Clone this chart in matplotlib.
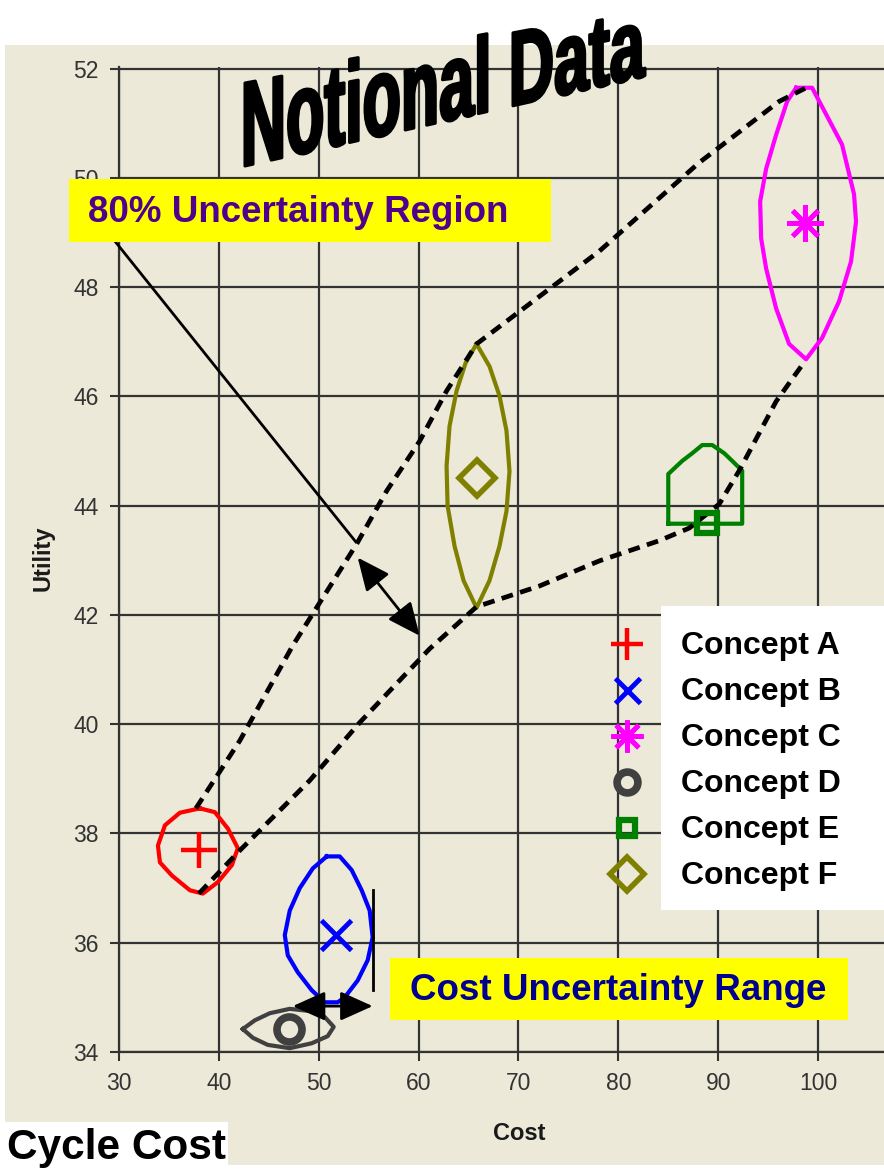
import numpy as np
import matplotlib
matplotlib.use("Agg")
import matplotlib.pyplot as plt
from matplotlib.patches import Rectangle, PathPatch
from matplotlib.path import Path
from matplotlib.textpath import TextPath
from matplotlib.font_manager import FontProperties
from matplotlib.transforms import IdentityTransform

plt.rcParams['font.family'] = ['Liberation Sans', 'DejaVu Sans']

W, H = 884, 1171
BEIGE = '#ECE9D8'

# concept point estimates
concepts = ['Concept A', 'Concept B', 'Concept C', 'Concept D', 'Concept E', 'Concept F']
cost = [38.0, 51.7, 98.7, 47.0, 88.9, 65.8]
utility = [37.69, 36.14, 49.17, 34.42, 43.68, 44.51]
colors = ['#ff0000', '#0000ff', '#ff00ff', '#404040', '#008000', '#808000']
markers = ['+', 'x', (8, 2, 0), 'o', 's', 'D']

# uncertainty outlines per concept (cost, utility)
region_a_cost = [38.1, 39.6, 40.9, 41.9, 41.3, 39.9, 38.4, 37.1, 35.3, 34.1, 33.9, 34.6, 36.1]
region_a_util = [38.46, 38.39, 38.09, 37.73, 37.42, 37.11, 36.90, 36.96, 37.23, 37.47, 37.78, 38.15, 38.38]

region_b_cost = [50.8, 52.1, 53.3, 54.3, 55.1, 55.4, 54.9, 53.9, 52.6, 51.9, 50.6, 49.3,
                 47.9, 46.9, 46.6, 47.1, 48.1, 49.4]
region_b_util = [37.58, 37.58, 37.33, 36.96, 36.59, 36.10, 35.68, 35.31, 35.00, 34.91, 34.91, 35.13,
                 35.46, 35.77, 36.14, 36.59, 37.00, 37.36]

region_c_cost = [97.8, 99.4, 102.4, 103.6, 103.8, 103.3, 102.1, 100.4, 98.8, 97.1, 95.8, 94.8,
                 94.3, 94.2, 94.8, 95.8, 96.9]
region_c_util = [51.65, 51.65, 50.61, 49.70, 49.20, 48.47, 47.74, 47.07, 46.68, 46.96, 47.61, 48.34,
                 48.89, 49.57, 50.17, 50.79, 51.40]

region_d_cost = [42.4, 43.6, 45.1, 47.1, 49.1, 50.6, 51.5, 50.9, 49.3, 47.1, 44.9, 43.4]
region_d_util = [34.42, 34.58, 34.71, 34.79, 34.75, 34.64, 34.46, 34.29, 34.16, 34.07, 34.13, 34.26]

region_e_cost = [85.0, 85.0, 86.4, 87.4, 88.4, 89.4, 90.6, 91.4, 92.4, 92.4]
region_e_util = [43.67, 44.58, 44.82, 44.96, 45.11, 45.11, 44.96, 44.82, 44.64, 43.67]

region_f_cost = [65.8, 67.1, 68.1, 68.8, 69.1, 68.8, 68.1, 67.1, 65.8, 64.5, 63.6, 62.9,
                 62.8, 63.1, 63.8, 64.7]
region_f_util = [46.96, 46.55, 46.01, 45.37, 44.63, 43.90, 43.26, 42.63, 42.13, 42.63, 43.26, 44.00,
                 44.73, 45.46, 46.10, 46.61]

regions = [(region_a_cost, region_a_util), (region_b_cost, region_b_util),
           (region_c_cost, region_c_util), (region_d_cost, region_d_util),
           (region_e_cost, region_e_util), (region_f_cost, region_f_util)]

# 80% band edges
band_upper_cost = [37.7, 42.1, 47.4, 53.8, 56.8, 60.1, 62.8, 65.8, 78.1, 88.1, 96.1, 98.7]
band_upper_util = [38.46, 39.70, 41.44, 43.30, 44.27, 45.18, 46.10, 46.96, 48.66, 50.28, 51.40, 51.64]
band_lower_cost = [38.0, 42.1, 49.1, 54.1, 61.1, 65.8, 72.1, 78.1, 84.1, 87.1, 90.1, 92.1, 95.8, 98.7]
band_lower_util = [36.90, 37.69, 38.97, 40.03, 41.38, 42.15, 42.53, 42.99, 43.36, 43.59, 44.03,
                   44.64, 45.91, 46.65]

x_ticks = [30, 40, 50, 60, 70, 80, 90, 100]
y_ticks = [34, 36, 38, 40, 42, 44, 46, 48, 50, 52]


def fx(px):
    return px / W


def fy(py):
    return 1 - py / H


fig = plt.figure(figsize=(W / 100, H / 100), dpi=100, facecolor='white')
fig.add_artist(Rectangle((fx(5), fy(1165)), fx(W - 5), (1165 - 45) / H,
                         transform=fig.transFigure, facecolor=BEIGE, edgecolor='none', zorder=-5))

ax = fig.add_axes([fx(119), fy(1052), fx(W - 119), (1052 - 67) / H])
ax.set_facecolor(BEIGE)
ax.set_xlim(30, 106.6)
ax.set_ylim(34, 52.03)
ax.set_xticks(x_ticks)
ax.set_yticks(y_ticks)
ax.grid(True, color='#333333', lw=1.6, zorder=0)
ax.set_axisbelow(True)
for side in ['top', 'right']:
    ax.spines[side].set_visible(False)
for side in ['left', 'bottom']:
    ax.spines[side].set_color('#333333')
    ax.spines[side].set_linewidth(1.6)
ax.tick_params(direction='out', length=6.2, width=1.5, color='#333333',
               labelcolor='#333333', labelsize=16.5, pad=8.5)

# uncertainty outlines
for (rc, ru), c in zip(regions, colors):
    ax.plot(rc + rc[:1], ru + ru[:1], color=c, lw=3.0, solid_joinstyle='round', zorder=3)

# 80% band
for bc, bu in [(band_upper_cost, band_upper_util), (band_lower_cost, band_lower_util)]:
    ax.plot(bc, bu, color='black', lw=3.4, ls=(0, (2.5, 1.6)), zorder=4)

# point estimates
sizes = [26, 21, 26, 18, 14, 18]
widths = [3.2, 3.5, 3.5, 5.5, 4.5, 4.0]
for x, y, c, m, s, w in zip(cost, utility, colors, markers, sizes, widths):
    ax.plot([x], [y], ls='none', marker=m, ms=s, mew=w, color=c,
            markerfacecolor='none' if m in ['o', 's', 'D'] else c, zorder=6)

# annotations
ax.plot([29.6, 53.7], [48.84, 43.34], color='black', lw=2, clip_on=False, zorder=5)
arrow = dict(arrowstyle='<|-|>,head_length=0.8,head_width=0.36', color='black', lw=2,
             mutation_scale=25, shrinkA=0, shrinkB=0)
ax.annotate('', xy=(60.1, 41.62), xytext=(53.9, 43.05), arrowprops=arrow, zorder=7)
ax.annotate('', xy=(55.4, 34.84), xytext=(47.4, 34.84), arrowprops=arrow, zorder=7)
ax.plot([55.4, 55.4], [35.13, 36.96], color='black', lw=2, zorder=5)

# legend
fig.add_artist(Rectangle((fx(661), fy(910)), fx(W - 661), (910 - 606) / H,
                         transform=fig.transFigure, facecolor='white', edgecolor='none', zorder=2))
leg_sizes = [23, 18, 23, 15, 12, 17]
for i, (name, c, m, s, w) in enumerate(zip(concepts, colors, markers, leg_sizes, widths)):
    row = fy(644 + 46 * i)
    ax.plot([fx(627)], [row], transform=fig.transFigure, clip_on=False, ls='none',
            marker=m, ms=s, mew=w, color=c,
            markerfacecolor='none' if m in ['o', 's', 'D'] else c, zorder=8)
    fig.text(fx(681), fy(646 + 46 * i), name, fontsize=23, fontweight='bold', color='black',
             va='center', ha='left', zorder=3)

# yellow callouts
fig.add_artist(Rectangle((fx(69), fy(242)), fx(551 - 69), (242 - 179) / H,
                         transform=fig.transFigure, facecolor='#ffff00', edgecolor='none', zorder=2))
fig.text(fx(88), fy(213), '80% Uncertainty Region', fontsize=26.5, fontweight='bold',
         color='#4f008c', va='center', ha='left', zorder=3)
fig.add_artist(Rectangle((fx(390), fy(1020)), fx(848 - 390), (1020 - 958) / H,
                         transform=fig.transFigure, facecolor='#ffff00', edgecolor='none', zorder=2))
fig.text(fx(410), fy(991), 'Cost Uncertainty Range', fontsize=26.5, fontweight='bold',
         color='#000090', va='center', ha='left', zorder=3)

# axis titles
fig.text(fx(43), fy(558), 'Utility', rotation=90, fontsize=17, fontweight='bold',
         color='#1a1a1a', ha='center', va='center')
fig.text(fx(519), fy(1133), 'Cost', fontsize=17, fontweight='bold',
         color='#1a1a1a', ha='center', va='center')

# bottom-left caption
fig.add_artist(Rectangle((0, 0), fx(228), (H - 1122) / H, transform=fig.transFigure,
                         facecolor='white', edgecolor='none', zorder=2))
fig.text(fx(7), fy(1148), 'Cycle Cost', fontsize=30.5, fontweight='bold', color='black',
         ha='left', va='center', zorder=3)

# slanted "Notional Data" banner built from the glyph outlines
prop = FontProperties(family='Liberation Sans', weight='bold')
tp = TextPath((0, 0), 'Notional Data', size=1, prop=prop)
cap = TextPath((0, 0), 'N', size=1, prop=prop).get_extents().height
bb = tp.get_extents()
verts = tp.vertices.copy()
x0_px, base_px, width_px = 245, 166, 400
slope = (168 - 77) / 405
X = x0_px + (verts[:, 0] - bb.x0) / bb.width * width_px
h = 83 - 15 * (X - x0_px) / width_px
Y = (H - base_px) + (X - x0_px) * slope + verts[:, 1] / cap * h
banner = Path(np.column_stack([X, Y]), tp.codes)
fig.add_artist(PathPatch(banner, transform=IdentityTransform(), facecolor='black',
                         edgecolor='black', lw=2.2, joinstyle='round', zorder=9))

fig.savefig('out.png', dpi=100, facecolor='white')
